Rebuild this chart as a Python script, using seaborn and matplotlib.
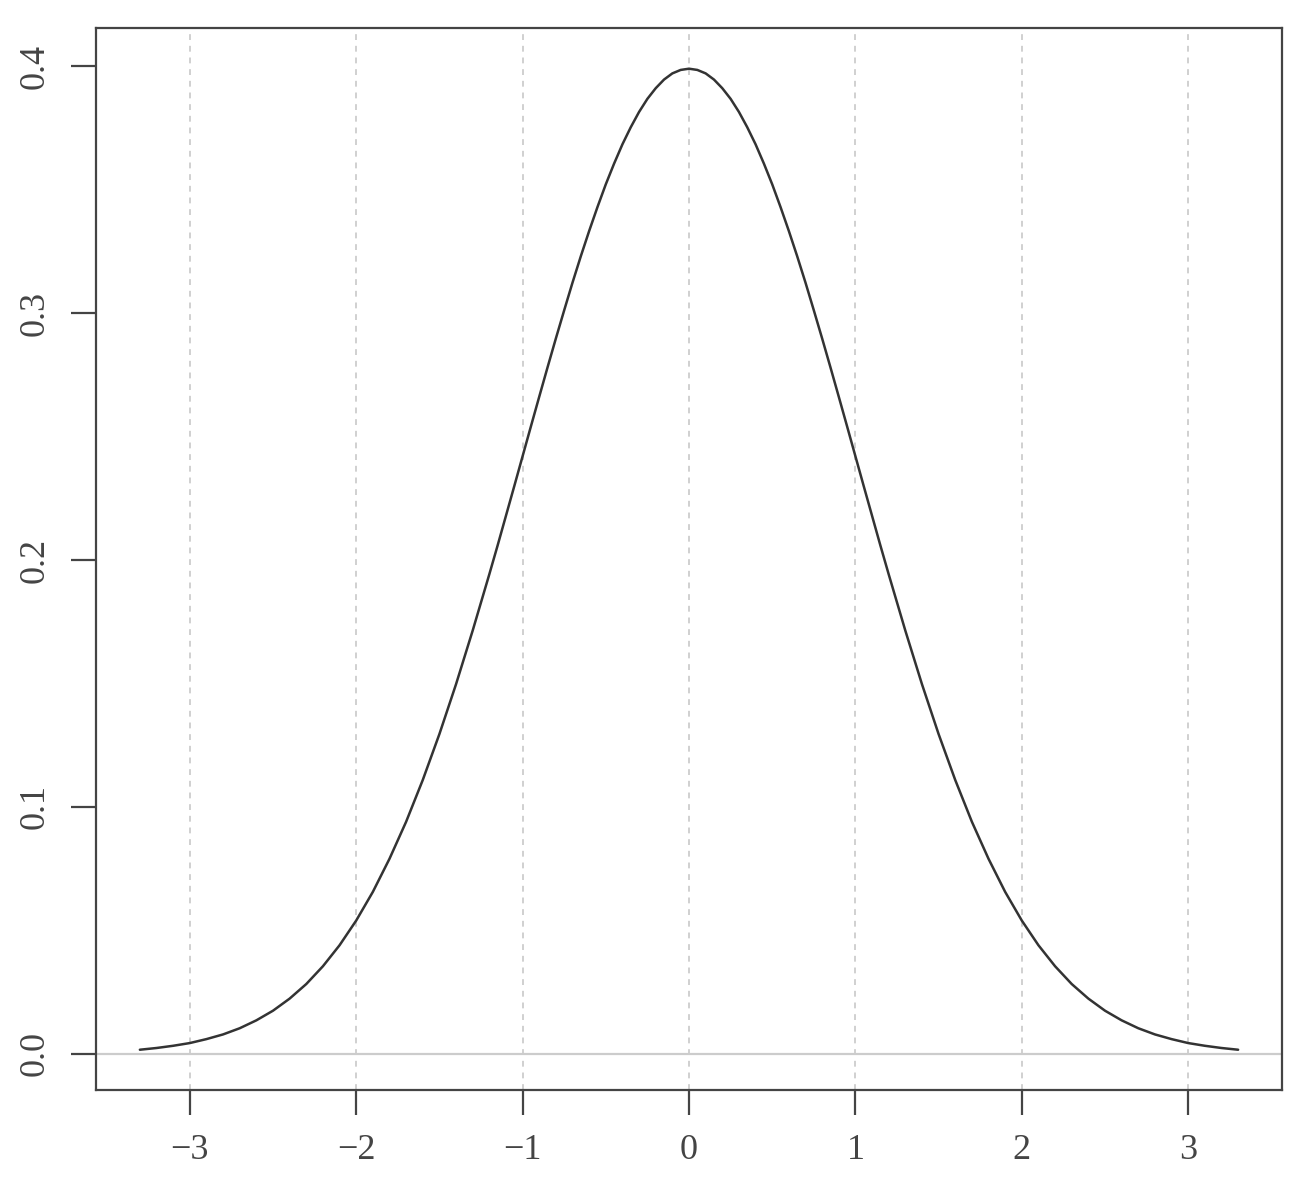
import matplotlib
matplotlib.use("Agg")
import matplotlib.pyplot as plt
import seaborn as sns
import pandas as pd

# density values (denser sampling near the peak)
x_vals = [-3.3, -3.2, -3.1, -3.0, -2.9, -2.8, -2.7, -2.6, -2.5, -2.4, -2.3, -2.2,
          -2.1, -2.0, -1.9, -1.8, -1.7, -1.6, -1.5, -1.4, -1.3, -1.2,
          -1.15, -1.1, -1.05, -1.0, -0.95, -0.9, -0.85, -0.8, -0.75, -0.7, -0.65, -0.6,
          -0.55, -0.5, -0.45, -0.4, -0.35, -0.3, -0.25, -0.2, -0.15, -0.1, -0.05, 0.0,
          0.05, 0.1, 0.15, 0.2, 0.25, 0.3, 0.35, 0.4, 0.45, 0.5, 0.55, 0.6,
          0.65, 0.7, 0.75, 0.8, 0.85, 0.9, 0.95, 1.0, 1.05, 1.1, 1.15, 1.2,
          1.3, 1.4, 1.5, 1.6, 1.7, 1.8, 1.9, 2.0, 2.1, 2.2, 2.3, 2.4,
          2.5, 2.6, 2.7, 2.8, 2.9, 3.0, 3.1, 3.2, 3.3]
y_vals = [0.0017, 0.0024, 0.0033, 0.0044, 0.0060, 0.0079, 0.0104, 0.0136, 0.0175, 0.0224, 0.0283, 0.0355,
          0.0440, 0.0540, 0.0656, 0.0790, 0.0940, 0.1109, 0.1295, 0.1497, 0.1714, 0.1942,
          0.2059, 0.2179, 0.2299, 0.2420, 0.2541, 0.2661, 0.2780, 0.2897, 0.3011, 0.3123, 0.3230, 0.3332,
          0.3429, 0.3521, 0.3605, 0.3683, 0.3752, 0.3814, 0.3867, 0.3910, 0.3945, 0.3970, 0.3984, 0.3989,
          0.3984, 0.3970, 0.3945, 0.3910, 0.3867, 0.3814, 0.3752, 0.3683, 0.3605, 0.3521, 0.3429, 0.3332,
          0.3230, 0.3123, 0.3011, 0.2897, 0.2780, 0.2661, 0.2541, 0.2420, 0.2299, 0.2179, 0.2059, 0.1942,
          0.1714, 0.1497, 0.1295, 0.1109, 0.0940, 0.0790, 0.0656, 0.0540, 0.0440, 0.0355, 0.0283, 0.0224,
          0.0175, 0.0136, 0.0104, 0.0079, 0.0060, 0.0044, 0.0033, 0.0024, 0.0017]
x_ticks = [-3, -2, -1, 0, 1, 2, 3]
y_ticks = [0.0, 0.1, 0.2, 0.3, 0.4]
y_tick_labels = ["0.0", "0.1", "0.2", "0.3", "0.4"]

sns.set_style("white")
plt.rcParams["font.family"] = ["Liberation Serif", "DejaVu Serif"]

df = pd.DataFrame({"x": x_vals, "y": y_vals})

fig = plt.figure(figsize=(13, 11.84), dpi=100)
ax = fig.add_axes([0.0738, 0.0794, 0.9124, 0.8970])

for xt in x_ticks:
    ax.axvline(xt, color="#d0d0d0", linestyle=(0, (3, 3)), linewidth=1.4, zorder=1)
ax.axhline(0, color="#cccccc", linewidth=1.6, zorder=1)

sns.lineplot(data=df, x="x", y="y", ax=ax, color="#333333", linewidth=1.8, zorder=3)

ax.set_xlim(-3.564, 3.564)
ax.set_ylim(-0.0146, 0.4154)
ax.set_xticks(x_ticks)
ax.set_xticklabels([str(t).replace("-", "\u2212") for t in x_ticks])
ax.set_yticks(y_ticks)
ax.set_yticklabels(y_tick_labels, rotation=90, va="center")
ax.set_xlabel("")
ax.set_ylabel("")

ax.tick_params(axis="both", direction="out", length=18, width=1.6, color="#444444",
               labelsize=26, labelcolor="#444444", pad=14, bottom=True, left=True)
for s in ax.spines.values():
    s.set_color("#444444")
    s.set_linewidth(1.6)

fig.savefig("out.png", dpi=100)
